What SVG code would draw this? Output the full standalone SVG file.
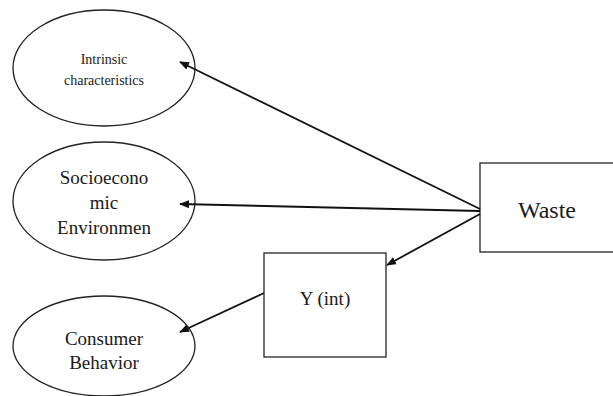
<svg xmlns="http://www.w3.org/2000/svg" width="613" height="396" viewBox="0 0 613 396">
<style>
.shape{fill:#fff;stroke:#222;stroke-width:1.3}
.lbl{font-family:"Liberation Serif","Times New Roman",serif;fill:#1a1a1a;text-anchor:middle}
.conn{stroke:#111;stroke-width:1.8;fill:none;marker-end:url(#ah)}
</style>
<defs>
<marker id="ah" markerWidth="10" markerHeight="8" refX="9" refY="4" orient="auto" markerUnits="userSpaceOnUse">
<path d="M0,0 L10,4 L0,8 z" fill="#111"/>
</marker>
</defs>
<rect width="613" height="396" fill="#fff"/>
<g id="intrinsic">
<ellipse class="shape" cx="104" cy="68" rx="91" ry="58"/>
<text class="lbl" font-size="14" x="104" y="64">Intrinsic</text>
<text class="lbl" font-size="14" x="104" y="85">characteristics</text>
</g>
<g id="socioeconomic">
<ellipse class="shape" cx="104" cy="201" rx="91" ry="59"/>
<text class="lbl" font-size="19" x="104" y="184">Socioecono</text>
<text class="lbl" font-size="19" x="104" y="209">mic</text>
<text class="lbl" font-size="19" x="104" y="234">Environmen</text>
</g>
<g id="consumer">
<ellipse class="shape" cx="104" cy="346" rx="91" ry="50"/>
<text class="lbl" font-size="19" x="104" y="345">Consumer</text>
<text class="lbl" font-size="19" x="104" y="369">Behavior</text>
</g>
<g id="waste">
<rect class="shape" x="480" y="163" width="140" height="89"/>
<text class="lbl" font-size="24" x="547" y="218">Waste</text>
</g>
<g id="yint">
<rect class="shape" x="264" y="253" width="122" height="104"/>
<text class="lbl" font-size="19" x="325" y="305">Y (int)</text>
</g>
<g id="connectors">
<line class="conn" x1="480" y1="209" x2="180" y2="62"/>
<line class="conn" x1="480" y1="211" x2="180" y2="204"/>
<line class="conn" x1="480" y1="214" x2="387" y2="265"/>
<line class="conn" x1="264" y1="293" x2="180" y2="332"/>
</g>
</svg>
